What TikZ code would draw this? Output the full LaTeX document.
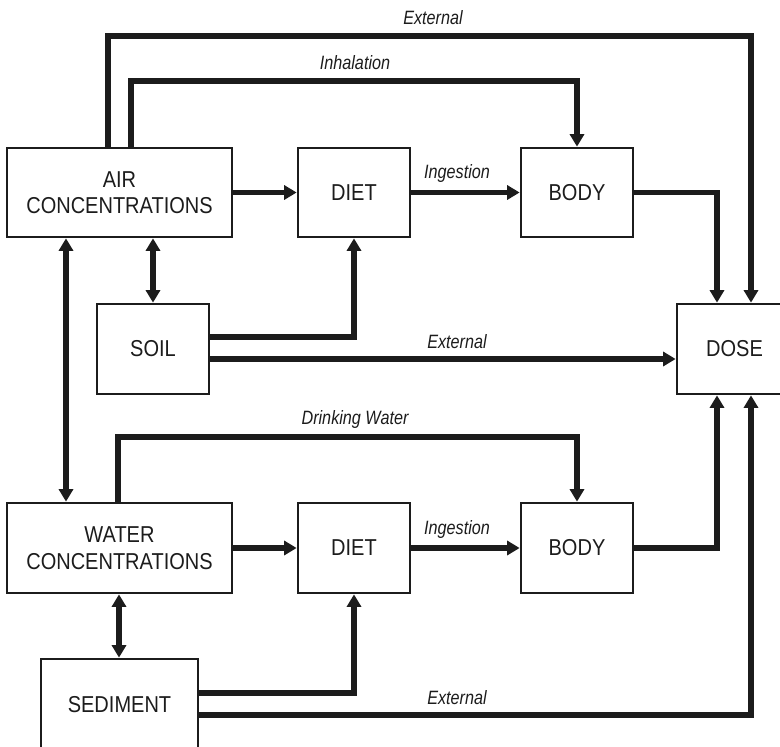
\documentclass[tikz,border=0pt]{standalone}
\usepackage{fontspec}
\setmainfont{Liberation Sans}[FakeStretch=0.87]
\newfontfamily\lblfont{Liberation Sans}[FakeStretch=0.84]
\usetikzlibrary{arrows.meta}
\definecolor{ink}{RGB}{28,28,28}
\begin{document}
\begin{tikzpicture}[x=1pt,y=-1pt,
  box/.style={draw=ink,line width=2.7pt,rectangle,inner sep=0pt,align=center,
    font=\fontsize{23}{26.5}\selectfont,text=ink},
  conn/.style={draw=ink,line width=5.6pt,-{Triangle[length=12.5pt,width=14pt]}},
  dconn/.style={draw=ink,line width=5.6pt,{Triangle[length=12.5pt,width=14pt]}-{Triangle[length=12.5pt,width=14pt]}},
  lbl/.style={font=\lblfont\fontsize{19.3}{21}\selectfont\itshape,text=ink,inner sep=0pt}]
\useasboundingbox (0,0) rectangle (780,747);
\clip (0,0) rectangle (780,747);
% nodes
\node[box,minimum width=225pt,minimum height=89pt] (air) at (119.5,192.5) {AIR\\CONCENTRATIONS};
\node[box,minimum width=112pt,minimum height=89pt] (diet1) at (354,192.5) {DIET};
\node[box,minimum width=112pt,minimum height=89pt] (body1) at (577,192.5) {BODY};
\node[box,minimum width=112pt,minimum height=90pt] (soil) at (153,349) {SOIL};
\node[box,minimum width=115pt,minimum height=90pt] (dose) at (734.5,349) {DOSE};
\node[box,minimum width=225pt,minimum height=90pt] (water) at (119.5,548) {WATER\\CONCENTRATIONS};
\node[box,minimum width=112pt,minimum height=90pt] (diet2) at (354,548) {DIET};
\node[box,minimum width=112pt,minimum height=90pt] (body2) at (577,548) {BODY};
\node[box,minimum width=157pt,minimum height=92pt] (sed) at (119.5,705) {SEDIMENT};
% coordinates
\coordinate (extTop) at (751,36);
\coordinate (inhTop) at (577,81);
\coordinate (dwTop) at (577,437);
% top external
\draw[conn] (108,0 |- air.north) |- (extTop) -- (extTop |- dose.north);
% inhalation
\draw[conn] (131,0 |- air.north) |- (inhTop) -- (body1.north);
% horizontal flows top
\draw[conn] (air.east) -- (diet1.west);
\draw[conn] (diet1.east) -- (body1.west);
\draw[conn] (body1.east) -| (717,0 |- dose.north);
% air exchanges
\draw[dconn] (66,0 |- air.south) -- (66,0 |- water.north);
\draw[dconn] (air.south -| soil.north) -- (soil.north);
% soil flows
\draw[conn] (soil.east |- 0,337) -| (diet1.south);
\draw[conn] (soil.east |- 0,359) -- (dose.west |- 0,359);
% drinking water
\draw[conn] (118,0 |- water.north) |- (dwTop) -- (body2.north);
% horizontal flows bottom
\draw[conn] (water.east) -- (diet2.west);
\draw[conn] (diet2.east) -- (body2.west);
\draw[conn] (body2.east) -| (717,0 |- dose.south);
% water-sediment exchange
\draw[dconn] (119,0 |- water.south) -- (119,0 |- sed.north);
% sediment flows
\draw[conn] (sed.east |- 0,693) -| (diet2.south);
\draw[conn] (sed.east |- 0,715) -| (751,0 |- dose.south);
% labels
\node[lbl] (l1) at (433,18) {External};
\node[lbl] (l2) at (355,63) {Inhalation};
\node[lbl] (l3) at (457,174) {Ingestion};
\node[lbl] (l4) at (457,342) {External};
\node[lbl] (l5) at (355,420) {Drinking Water};
\node[lbl] (l6) at (457,530) {Ingestion};
\node[lbl] (l7) at (457,698) {External};
\end{tikzpicture}
\end{document}
